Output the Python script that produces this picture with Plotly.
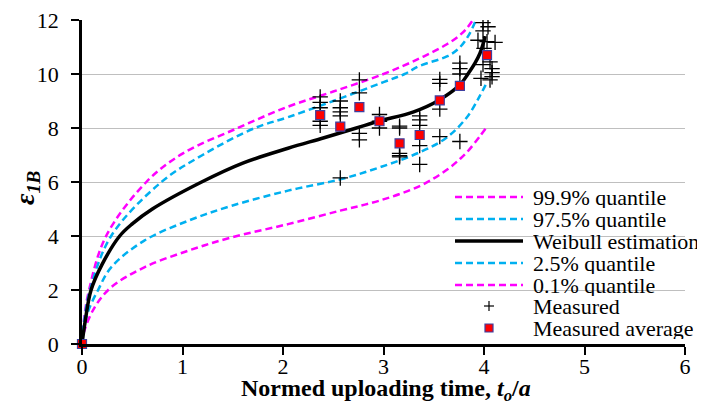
import plotly.graph_objects as go

# ---------------- data ----------------
q999_x = [0, 0.02, 0.07, 0.24, 0.64, 1.0, 1.55, 2.05, 2.5, 3.0, 3.36, 3.63, 3.76, 3.83, 3.89]
q999_y = [0, 0.9, 2.0, 4.0, 6.0, 7.05, 8.0, 8.79, 9.35, 10.0, 10.58, 11.1, 11.44, 11.7, 12.0]

q975_x = [0, 0.02, 0.08, 0.29, 0.79, 1.2, 1.72, 2.05, 2.5, 3.0, 3.21, 3.36, 3.63, 3.75, 3.85, 3.92]
q975_y = [0, 0.8, 2.0, 4.0, 6.0, 7.0, 8.0, 8.4, 9.0, 9.7, 10.0, 10.3, 10.65, 10.95, 11.45, 12.0]

weib_x = [0, 0.03, 0.09, 0.2, 0.375, 0.5, 0.7, 1.19, 1.6, 2.05, 2.4, 2.73, 2.96, 3.3, 3.56, 3.76, 3.84, 3.91, 3.96, 3.99, 4.01]
weib_y = [0, 0.8, 2.0, 2.95, 4.0, 4.45, 5.0, 6.0, 6.7, 7.25, 7.63, 8.0, 8.26, 8.6, 9.05, 9.6, 10.0, 10.4, 10.77, 11.1, 11.4]

q025_x = [0, 0.02, 0.06, 0.16, 0.29, 0.62, 1.06, 1.49, 2.05, 2.57, 2.96, 3.36, 3.63, 3.83, 3.96, 4.03]
q025_y = [0, 0.5, 1.2, 2.0, 2.84, 3.83, 4.57, 5.12, 5.68, 6.1, 6.54, 7.1, 7.65, 8.4, 9.2, 9.7]

q001_x = [0, 0.02, 0.126, 0.29, 0.62, 1.06, 1.49, 2.05, 2.57, 2.96, 3.36, 3.63, 3.76, 3.83, 3.96, 4.02]
q001_y = [0, 0.45, 1.36, 2.1, 2.84, 3.46, 3.95, 4.44, 4.94, 5.31, 5.85, 6.45, 6.85, 7.1, 7.7, 8.0]

meas_x = ([2.37] * 5 + [2.57] * 5 + [2.76] * 4 + [2.96] * 3 + [3.16] * 5 + [3.36] * 5
          + [3.56] * 4 + [3.76] * 4
          + [3.99, 4.04, 3.99, 3.94, 4.03, 4.11, 4.0, 3.99, 4.06, 4.08, 4.08, 4.08, 4.06, 3.97])
meas_y = ([9.15, 8.95, 8.75, 8.25, 8.1]
          + [9.0, 8.75, 8.6, 8.45, 6.15]
          + [9.78, 9.3, 7.8, 7.56]
          + [8.5, 8.25, 8.0]
          + [8.07, 8.0, 7.06, 6.98, 6.93]
          + [8.45, 8.3, 8.1, 7.35, 6.65]
          + [9.8, 9.65, 8.7, 7.68]
          + [10.4, 10.2, 10.0, 7.5]
          + [11.9, 11.75, 11.6, 11.25, 11.2, 11.17, 10.95, 10.35, 10.45, 10.2, 10.05, 9.9, 9.78, 9.84])

avg_x = [0, 2.37, 2.57, 2.76, 2.96, 3.16, 3.36, 3.56, 3.76, 4.03]
avg_y = [0, 8.48, 8.05, 8.77, 8.25, 7.43, 7.74, 9.02, 9.56, 10.7]

x_ticks = [0, 1, 2, 3, 4, 5, 6]
y_ticks = [0, 2, 4, 6, 8, 10, 12]

legend_names = ["99.9% quantile", "97.5% quantile", "Weibull estimation",
                "2.5% quantile", "0.1% quantile", "Measured", "Measured average"]
x_title = "<b>Normed uploading time, <i>t</i><sub><i>o</i></sub>/<i>a</i></b>"
y_title = "<b><i>ε</i><sub><i>1B</i></sub></b>"

# ---------------- styles / layout ----------------
MAGENTA = "#FF00FF"
CYAN = "#00B0F0"
FONT = "Times New Roman, Liberation Serif, serif"
DASH = "7px,4px"
OFF = 8                      # page body margin of the browser
W, H = 705 - OFF, 417 - OFF
ML, MR, MT, MB = 82 - OFF, 20, 20 - OFF, 73
PW, PH = W - ML - MR, H - MT - MB


def pxx(px):   # screen pixel -> paper x
    return (px - OFF - ML) / PW


def pxy(py):   # screen pixel -> paper y
    return (H - MB - (py - OFF)) / PH


fig = go.Figure()

curves = [
    (q999_x, q999_y, MAGENTA, 2.5, DASH),
    (q975_x, q975_y, CYAN, 2.5, DASH),
    (q025_x, q025_y, CYAN, 2.5, DASH),
    (q001_x, q001_y, MAGENTA, 2.5, DASH),
    (weib_x, weib_y, "black", 3.5, "solid"),
]
for cx, cy, col, wd, ds in curves:
    fig.add_trace(go.Scatter(x=cx, y=cy, mode="lines",
                             line=dict(color=col, width=wd, dash=ds, shape="spline", smoothing=1.0),
                             showlegend=False, hoverinfo="skip"))

fig.add_trace(go.Scatter(x=meas_x, y=meas_y, mode="markers", name="Measured",
                         marker=dict(symbol="cross-thin", size=11,
                                     line=dict(color="black", width=1.3)),
                         showlegend=False))
fig.add_trace(go.Scatter(x=avg_x, y=avg_y, mode="markers", name="Measured average",
                         marker=dict(symbol="square", size=9, color="#FF0000",
                                     line=dict(color="#3F3F9F", width=1.2)),
                         showlegend=False, cliponaxis=False))

# ---------------- manual legend ----------------
shapes = [dict(type="rect", xref="paper", yref="paper",
               x0=pxx(445), x1=pxx(690), y0=pxy(340), y1=pxy(186),
               fillcolor="white", line=dict(width=0), layer="between")]
annotations = []
row_y = [197, 219, 241, 263, 285, 306, 328]
line_styles = [(MAGENTA, 2.5, DASH), (CYAN, 2.5, DASH), ("black", 3.5, "solid"),
               (CYAN, 2.5, DASH), (MAGENTA, 2.5, DASH)]
for i, name in enumerate(legend_names):
    yy = pxy(row_y[i])
    if i < 5:
        col, wd, ds = line_styles[i]
        shapes.append(dict(type="line", xref="paper", yref="paper",
                           x0=pxx(455), x1=pxx(523), y0=yy, y1=yy,
                           line=dict(color=col, width=wd, dash=ds)))
    elif i == 5:
        shapes.append(dict(type="line", xref="paper", yref="paper",
                           x0=pxx(484), x1=pxx(494), y0=yy, y1=yy,
                           line=dict(color="black", width=1.2)))
        shapes.append(dict(type="line", xref="paper", yref="paper",
                           x0=pxx(489), x1=pxx(489), y0=pxy(row_y[i] - 5), y1=pxy(row_y[i] + 5),
                           line=dict(color="black", width=1.2)))
    else:
        shapes.append(dict(type="rect", xref="paper", yref="paper",
                           x0=pxx(485), x1=pxx(493), y0=pxy(row_y[i] + 4), y1=pxy(row_y[i] - 4),
                           fillcolor="#FF0000", line=dict(color="#3F3F9F", width=1.2)))
    annotations.append(dict(xref="paper", yref="paper", x=pxx(531), y=yy,
                            xanchor="left", yanchor="middle", showarrow=False, height=22,
                            text=name, font=dict(family=FONT, size=22, color="black")))

# axis titles
annotations.append(dict(xref="paper", yref="paper", x=pxx(386), y=pxy(390),
                        xanchor="center", yanchor="middle", showarrow=False, height=24,
                        text=x_title, font=dict(family=FONT, size=24, color="black")))
annotations.append(dict(xref="paper", yref="paper", x=pxx(26), y=pxy(188),
                        xanchor="center", yanchor="middle", showarrow=False, textangle=-90,
                        text=y_title, font=dict(family=FONT, size=28, color="black")))

fig.update_layout(
    width=W, height=H,
    margin=dict(l=ML, r=MR, t=MT, b=MB, autoexpand=False),
    paper_bgcolor="white", plot_bgcolor="white",
    font=dict(family=FONT, size=22, color="black"),
    shapes=shapes, annotations=annotations,
    showlegend=False,
)
fig.update_xaxes(range=[0, 6], tickvals=x_ticks, ticktext=[str(v) for v in x_ticks],
                 showgrid=False, zeroline=False, showline=True, linecolor="black", linewidth=2.5,
                 ticks="outside", ticklen=8, tickwidth=2, tickcolor="black",
                 ticklabelstandoff=-7, ticklabeloverflow="allow",
                 tickfont=dict(family=FONT, size=22))
fig.update_yaxes(range=[0, 12], tickvals=y_ticks, ticktext=[str(v) for v in y_ticks],
                 showgrid=True, gridcolor="#BFBFBF", gridwidth=1,
                 zeroline=False, showline=True, linecolor="black", linewidth=2.5,
                 ticks="outside", ticklen=8, tickwidth=2, tickcolor="black",
                 ticklabelstandoff=8, ticklabeloverflow="allow",
                 tickfont=dict(family=FONT, size=22))

fig.write_html("out.html")
